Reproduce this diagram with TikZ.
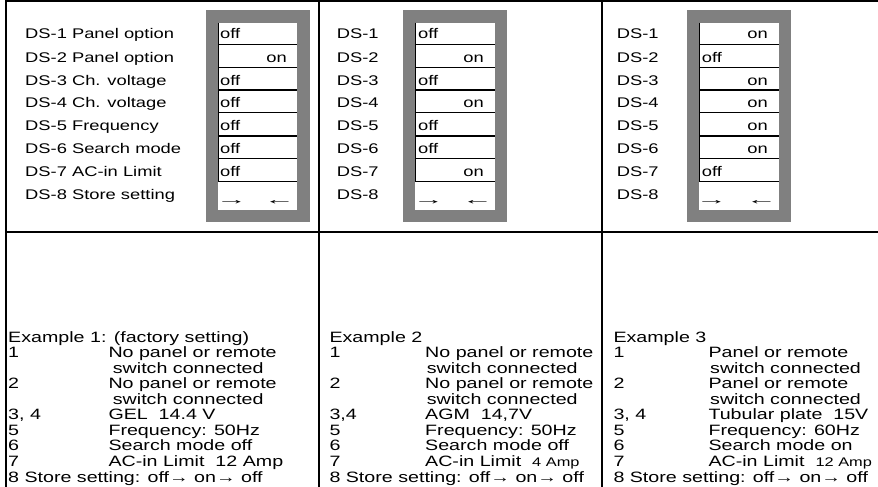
\documentclass[tikz,border=0pt]{standalone}
\usepackage{fontspec}
\newfontfamily\tf[FakeStretch=1.31]{Liberation Sans}
\newfontfamily\af[FakeStretch=2.2]{Liberation Sans}
\begin{document}
\begin{tikzpicture}[x=1pt,y=-1pt,
  rule/.style={line width=2.4pt,draw=black},
  lab/.style={anchor=base west,inner sep=0pt,font=\tf\fontsize{14}{16}\selectfont},
  labr/.style={anchor=base east,inner sep=0pt,font=\tf\fontsize{14}{16}\selectfont},
  arr/.style={anchor=base west,inner sep=0pt,font=\af\fontsize{14}{16}\selectfont},
  arrr/.style={anchor=base east,inner sep=0pt,font=\af\fontsize{14}{16}\selectfont},
  btxt/.style={anchor=base west,inner sep=0pt,font=\tf\fontsize{15}{16}\selectfont},
  cellline/.style={line width=1.5pt,draw=black}
]
\useasboundingbox (0,0) rectangle (878,487);
% frame
\coordinate (tl) at (6,1);
\coordinate (tr) at (878,1);
\coordinate (tl0) at (6,0);
\coordinate (bl) at (6,487);
\coordinate (ml) at (6,232);
\coordinate (mr) at (878,232);
\coordinate (d1t) at (319,0);
\coordinate (d1b) at (319,487);
\coordinate (d2t) at (602,0);
\coordinate (d2b) at (602,487);
\draw[rule] (tl) -- (tr);
\draw[rule] (tl0) -- (bl);
\draw[rule] (ml) -- (mr);
\draw[rule] (d1t) -- (d1b);
\draw[rule] (d2t) -- (d2b);

% switch boxes: outer x, inner left x, inner right x
\foreach \ox/\ix/\iy in {206/218/297, 403/415/495, 687/699/779}{
  \fill[black!50] (\ox,10) rectangle (\ox+104,222);
  \fill[white] (\ix,22.7) rectangle (\iy,210);
  \foreach \yy in {44.3,67.7,90,112.7,136,158.3,181.7}
    \draw[cellline] (\ix,\yy) -- (\iy,\yy);
  \draw[line width=1pt] (\ix+0.5,22.7) -- (\ix+0.5,181.7);
}

% column 1 labels
\node[lab] (a1) at (25,39) {DS-1 Panel option};
\node[lab] (a2) at (25,62.2) {DS-2 Panel option};
\node[lab] (a3) at (25,85) {DS-3 Ch. voltage};
\node[lab] (a4) at (25,107.7) {DS-4 Ch. voltage};
\node[lab] (a5) at (25,130.7) {DS-5 Frequency};
\node[lab] (a6) at (25,153.3) {DS-6 Search mode};
\node[lab] (a7) at (25,176.5) {DS-7 AC-in Limit};
\node[lab] (a8) at (25,199.5) {DS-8 Store setting};
% column 1 states
\node[lab] (s11) at (220,39) {off};
\node[labr] (s12) at (287,62.2) {on};
\node[lab] (s13) at (220,85) {off};
\node[lab] (s14) at (220,107.7) {off};
\node[lab] (s15) at (220,130.7) {off};
\node[lab] (s16) at (220,153.3) {off};
\node[lab] (s17) at (220,176.5) {off};
\node[arr] (r1a) at (216,204.5) {→};
\node[arrr] (r1b) at (295,204.5) {←};

% column 2
\node[lab] (b1) at (336.7,39) {DS-1};
\node[lab] (b2) at (336.7,62.2) {DS-2};
\node[lab] (b3) at (336.7,85) {DS-3};
\node[lab] (b4) at (336.7,107.7) {DS-4};
\node[lab] (b5) at (336.7,130.7) {DS-5};
\node[lab] (b6) at (336.7,153.3) {DS-6};
\node[lab] (b7) at (336.7,176.5) {DS-7};
\node[lab] (b8) at (336.7,199.5) {DS-8};
\node[lab] (s21) at (418,39) {off};
\node[labr] (s22) at (484,62.2) {on};
\node[lab] (s23) at (418,85) {off};
\node[labr] (s24) at (484,107.7) {on};
\node[lab] (s25) at (418,130.7) {off};
\node[lab] (s26) at (418,153.3) {off};
\node[labr] (s27) at (484,176.5) {on};
\node[arr] (r2a) at (413,204.5) {→};
\node[arrr] (r2b) at (493,204.5) {←};

% column 3
\node[lab] (c1) at (616.7,39) {DS-1};
\node[lab] (c2) at (616.7,62.2) {DS-2};
\node[lab] (c3) at (616.7,85) {DS-3};
\node[lab] (c4) at (616.7,107.7) {DS-4};
\node[lab] (c5) at (616.7,130.7) {DS-5};
\node[lab] (c6) at (616.7,153.3) {DS-6};
\node[lab] (c7) at (616.7,176.5) {DS-7};
\node[lab] (c8) at (616.7,199.5) {DS-8};
\node[labr] (s31) at (768,39) {on};
\node[lab] (s32) at (701.7,62.2) {off};
\node[labr] (s33) at (768,85) {on};
\node[labr] (s34) at (768,107.7) {on};
\node[labr] (s35) at (768,130.7) {on};
\node[labr] (s36) at (768,153.3) {on};
\node[lab] (s37) at (701.7,176.5) {off};
\node[arr] (r3a) at (696,204.5) {→};
\node[arrr] (r3b) at (777,204.5) {←};

% bottom text baselines
\def\yA{342}\def\yB{357.6}\def\yC{373.1}\def\yD{388.7}\def\yE{404.2}
\def\yF{419.8}\def\yG{435.3}\def\yH{450.9}\def\yI{466.4}\def\yJ{482}
% Example 1
\node[btxt] (e1h) at (8,\yA) {Example 1: (factory setting)};
\node[btxt] (e1n1) at (8,\yB) {1};
\node[btxt] (e1d1) at (108.3,\yB) {No panel or remote};
\node[btxt] (e1d1b) at (112.7,\yC) {switch connected};
\node[btxt] (e1n2) at (8,\yD) {2};
\node[btxt] (e1d2) at (108.3,\yD) {No panel or remote};
\node[btxt] (e1d2b) at (112.7,\yE) {switch connected};
\node[btxt] (e1n3) at (8,\yF) {3, 4};
\node[btxt] (e1d3) at (108.3,\yF) {GEL\ \ 14.4 V};
\node[btxt] (e1n5) at (8,\yG) {5};
\node[btxt] (e1d5) at (108.3,\yG) {Frequency: 50Hz};
\node[btxt] (e1n6) at (8,\yH) {6};
\node[btxt] (e1d6) at (108.3,\yH) {Search mode off};
\node[btxt] (e1n7) at (8,\yI) {7};
\node[btxt] (e1d7) at (108.3,\yI) {AC-in Limit\ \ 12 Amp};
\node[btxt] (e1n8) at (8,\yJ) {8 Store setting: off→ on→ off};
% Example 2
\node[btxt] (e2h) at (329.3,\yA) {Example 2};
\node[btxt] (e2n1) at (329.3,\yB) {1};
\node[btxt] (e2d1) at (425,\yB) {No panel or remote};
\node[btxt] (e2d1b) at (426.7,\yC) {switch connected};
\node[btxt] (e2n2) at (329.3,\yD) {2};
\node[btxt] (e2d2) at (425,\yD) {No panel or remote};
\node[btxt] (e2d2b) at (426.7,\yE) {switch connected};
\node[btxt] (e2n3) at (329.3,\yF) {3,4};
\node[btxt] (e2d3) at (425,\yF) {AGM\ \ 14,7V};
\node[btxt] (e2n5) at (329.3,\yG) {5};
\node[btxt] (e2d5) at (425,\yG) {Frequency: 50Hz};
\node[btxt] (e2n6) at (329.3,\yH) {6};
\node[btxt] (e2d6) at (425,\yH) {Search mode off};
\node[btxt] (e2n7) at (329.3,\yI) {7};
\node[btxt] (e2d7) at (425,\yI) {AC-in Limit\ \ {\fontsize{12.5}{14}\selectfont 4 Amp}};
\node[btxt] (e2n8) at (329.3,\yJ) {8 Store setting: off→ on→ off};
% Example 3
\node[btxt] (e3h) at (613.3,\yA) {Example 3};
\node[btxt] (e3n1) at (613.3,\yB) {1};
\node[btxt] (e3d1) at (708.3,\yB) {Panel or remote};
\node[btxt] (e3d1b) at (710,\yC) {switch connected};
\node[btxt] (e3n2) at (613.3,\yD) {2};
\node[btxt] (e3d2) at (708.3,\yD) {Panel or remote};
\node[btxt] (e3d2b) at (710,\yE) {switch connected};
\node[btxt] (e3n3) at (613.3,\yF) {3, 4};
\node[btxt] (e3d3) at (708.3,\yF) {Tubular plate\ \ 15V};
\node[btxt] (e3n5) at (613.3,\yG) {5};
\node[btxt] (e3d5) at (708.3,\yG) {Frequency: 60Hz};
\node[btxt] (e3n6) at (613.3,\yH) {6};
\node[btxt] (e3d6) at (708.3,\yH) {Search mode on};
\node[btxt] (e3n7) at (613.3,\yI) {7};
\node[btxt] (e3d7) at (708.3,\yI) {AC-in Limit\ \ {\fontsize{12.5}{14}\selectfont 12 Amp}};
\node[btxt] (e3n8) at (613.3,\yJ) {8 Store setting: off→ on→ off};
\end{tikzpicture}
\end{document}
